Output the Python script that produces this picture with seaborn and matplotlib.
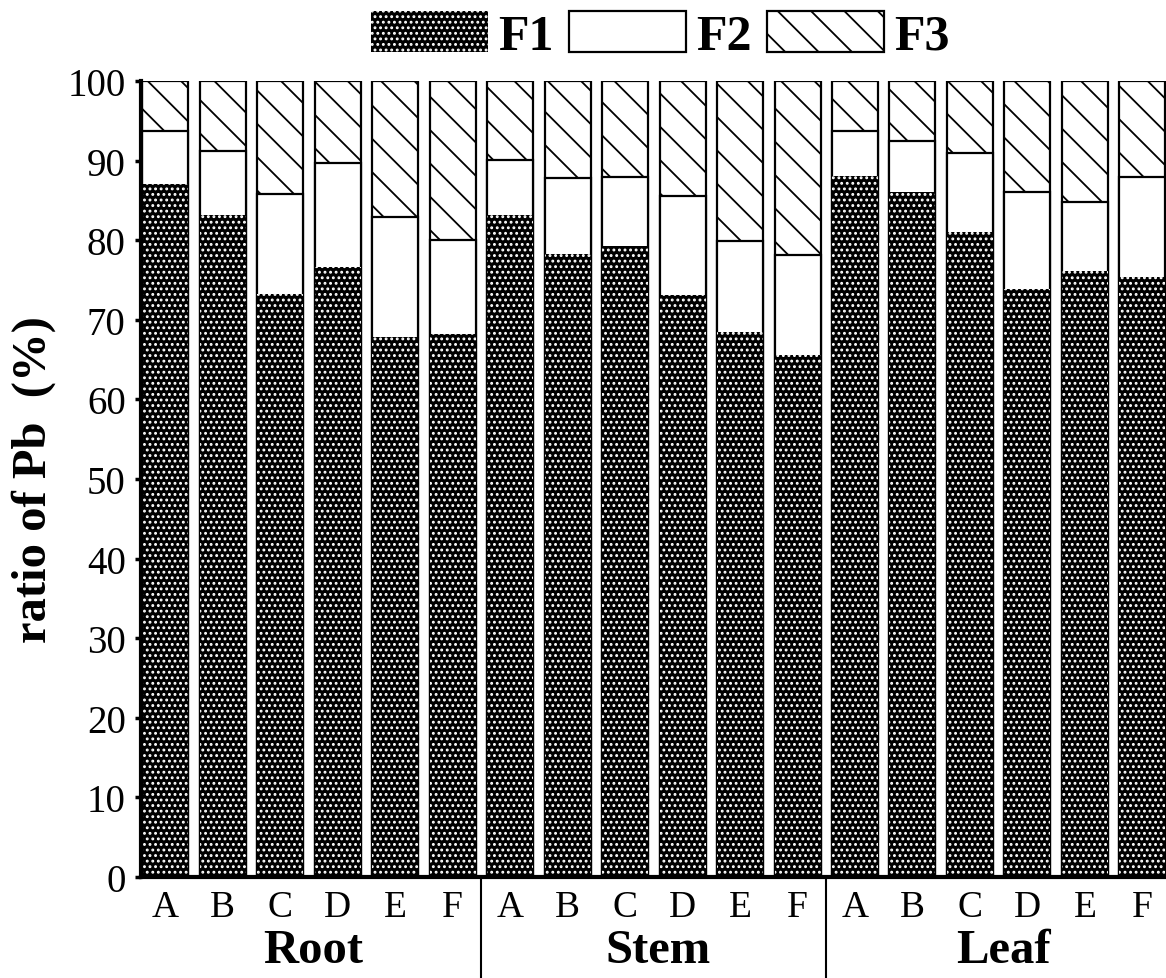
import numpy as np
import pandas as pd
import matplotlib
matplotlib.use("Agg")
import matplotlib.pyplot as plt
import matplotlib.transforms as mtransforms
from matplotlib.patches import Patch
import seaborn as sns

# ---- data ----
organs = ["Root", "Stem", "Leaf"]
treatments = ["A", "B", "C", "D", "E", "F"]
series = ["F1", "F2", "F3"]
f1 = [87.1, 83.2, 73.2, 76.6, 67.8, 68.2,
      83.2, 78.3, 79.3, 73.1, 68.5, 65.6,
      88.1, 86.1, 81.0, 73.9, 76.1, 75.4]
f2 = [6.6, 8.0, 12.6, 13.1, 15.1, 11.8,
      6.9, 9.5, 8.7, 12.5, 11.4, 12.6,
      5.6, 6.4, 10.0, 12.2, 8.7, 12.6]
f3 = [6.3, 8.8, 14.2, 10.3, 17.1, 20.0,
      9.9, 12.2, 12.0, 14.4, 20.1, 21.8,
      6.3, 7.5, 9.0, 13.9, 15.2, 12.0]
yticks = list(range(0, 101, 10))

sns.set_theme(style="ticks")
plt.rcParams["font.family"] = ["Liberation Serif", "DejaVu Serif"]
plt.rcParams["hatch.linewidth"] = 1.3
for key in ["text.color", "axes.labelcolor", "xtick.color", "ytick.color",
            "axes.edgecolor"]:
    plt.rcParams[key] = "black"

ids = [f"{o}-{t}" for o in organs for t in treatments]
df = pd.DataFrame({
    "id": ids,
    "F1": f1,
    "F2": f2,
    "F3": f3,
})
df["cum1"] = df["F1"]
df["cum2"] = df["F1"] + df["F2"]
df["cum3"] = df["F1"] + df["F2"] + df["F3"]

W, H = 1166, 979
fig = plt.figure(figsize=(W / 100, H / 100), dpi=100)
ax = fig.add_axes([141 / W, 1 - 878 / H, (1166 - 141) / W, (878 - 82) / H])

# stacked bars drawn as overlapping cumulative totals
sns.barplot(data=df, x="id", y="cum3", order=ids, color="white", saturation=1,
            edgecolor="black", linewidth=1.6, hatch="\\", errorbar=None,
            width=0.8, ax=ax)
sns.barplot(data=df, x="id", y="cum2", order=ids, color="white", saturation=1,
            edgecolor="black", linewidth=1.6, errorbar=None, width=0.8, ax=ax)
sns.barplot(data=df, x="id", y="cum1", order=ids, color="black", saturation=1,
            edgecolor="white", linewidth=0, hatch="...", errorbar=None,
            width=0.8, ax=ax)

ax.set_xlim(-0.42, 17.41)
ax.set_ylim(0, 100)
ax.set_yticks(yticks)
ax.set_yticklabels([str(v) for v in yticks])
ax.set_xticks(range(len(ids)))
ax.set_xticklabels(treatments * len(organs))
ax.tick_params(axis="x", length=0, labelsize=27, pad=9, colors="black")
ax.tick_params(axis="y", length=4, width=2.5, direction="out", labelsize=28,
               pad=7, colors="black")

sns.despine(ax=ax, top=True, right=True)
ax.spines["left"].set_linewidth(3)
ax.spines["bottom"].set_linewidth(3)
ax.set_xlabel("")
ax.set_ylabel("ratio of Pb  (%)", fontsize=35, fontweight="bold", color="black")
ax.yaxis.set_label_coords(-0.083, 0.5)

trans = mtransforms.blended_transform_factory(ax.transData, ax.transAxes)
for k, organ in enumerate(organs):
    center = k * len(treatments) + (len(treatments) - 1) / 2
    ax.text(center + 0.08, -0.0917, organ, transform=trans, ha="center",
            va="center", fontsize=35, fontweight="bold", color="black")
for k in range(1, len(organs)):
    xsep = k * len(treatments) - 0.5
    ax.plot([xsep, xsep], [0, -0.13], transform=trans, color="black",
            linewidth=1.5, clip_on=False)

handles = [
    Patch(facecolor="black", edgecolor="white", hatch="...", linewidth=0),
    Patch(facecolor="white", edgecolor="black", linewidth=1.6),
    Patch(facecolor="white", edgecolor="black", hatch="\\", linewidth=1.6),
]
leg = fig.legend(handles, series, loc="center", bbox_to_anchor=(660 / W, 1 - 36 / H),
                 ncol=3, frameon=False, handlelength=2.35, handleheight=0.9,
                 handletextpad=0.2, columnspacing=0.3, labelcolor="black",
                 prop={"family": ["Liberation Serif"], "weight": "bold", "size": 36})

fig.savefig("out.png", dpi=100)
